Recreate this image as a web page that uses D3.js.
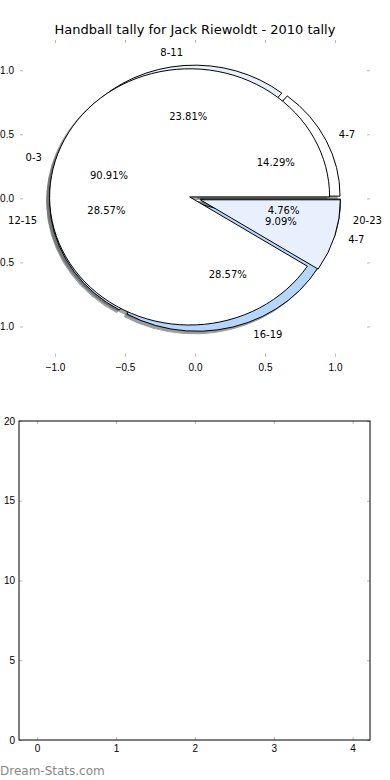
<!DOCTYPE html>
<html lang="en">
<head>
<meta charset="UTF-8">
<title>Handball tally for Jack Riewoldt - 2010 tally</title>
<style>
  body { margin: 0; background: #ffffff; }
  svg { display: block; font-family: 'DejaVu Sans', sans-serif; }
  .tick text { font-size: 10px; fill: #000000; }
  .tick line { stroke: #b8b8b8; }
</style>
</head>
<body>
<svg id="chart" width="390" height="780"></svg>
<script src="https://d3js.org/d3.v7.min.js"></script>
<script>
const title = "Handball tally for Jack Riewoldt - 2010 tally";

// handballs by time band (the empty 0-3 band is left out of this pie)
const tallyBands = ["4-7", "8-11", "12-15", "16-19", "20-23"];
const tallyValues = [3, 5, 6, 6, 1];
const tallyColors = ["#ffffff", "#e9f0fd", "#d3e3fb", "#b6d6fe", "#e9f0fd"];

// second pie, drawn on top of the first one
const splitBands = ["0-3", "4-7"];
const splitValues = [10, 1];
const splitColors = ["#ffffff", "#e9f0fd"];

const pieTicks = [-1.0, -0.5, 0.0, 0.5, 1.0];
const barXTicks = [0, 1, 2, 3, 4];
const barYTicks = [0, 5, 10, 15, 20];

const explode = 0.04, shadowOff = 0.02;

const svg = d3.select("#chart");

// ---- top panel: the pies ----
const xP = d3.scaleLinear().domain([-1.25, 1.25]).range([20, 370]);
const yP = d3.scaleLinear().domain([-1.236, 1.236]).range([356.7, 40]);

svg.append("text")
  .attr("x", xP(0)).attr("y", 34)
  .attr("text-anchor", "middle")
  .style("font-size", "13px")
  .text(title);

function tickAxes(g, x, y, xt, yt, xpad, ypad, xfmt, yfmt) {
  const [x0, x1] = x.range(), [y0, y1] = y.range();
  g.append("g").attr("transform", `translate(0,${y0})`)
    .call(d3.axisBottom(x).tickValues(xt).tickSize(-3).tickPadding(xpad).tickFormat(xfmt))
    .call(a => a.select(".domain").remove());
  g.append("g").attr("transform", `translate(0,${y1})`)
    .call(d3.axisTop(x).tickValues(xt).tickSize(-3).tickFormat(""))
    .call(a => a.select(".domain").remove());
  g.append("g").attr("transform", `translate(${x0},0)`)
    .call(d3.axisLeft(y).tickValues(yt).tickSize(-3).tickPadding(ypad).tickFormat(yfmt))
    .call(a => a.select(".domain").remove());
  g.append("g").attr("transform", `translate(${x1},0)`)
    .call(d3.axisRight(y).tickValues(yt).tickSize(-3).tickFormat(""))
    .call(a => a.select(".domain").remove());
}

const piePanel = svg.append("g");
tickAxes(piePanel, xP, yP, pieTicks, pieTicks, 7, 6, d3.format(".1f"), d3.format(".1f"));

// matplotlib-style pies: start at 3 o'clock and run counter-clockwise
function layout(values, bands, colors) {
  const pie = d3.pie().sort(null)
    .startAngle(Math.PI / 2)
    .endAngle(Math.PI / 2 - 2 * Math.PI);
  const total = d3.sum(values);
  return pie(values).map((d, i) => {
    const mid = Math.PI / 2 - (d.startAngle + d.endAngle) / 2;
    return {
      arc: d, band: bands[i], color: colors[i], mid,
      pct: d3.format(".2f")(values[i] / total * 100) + "%",
      dx: explode * Math.cos(mid), dy: explode * Math.sin(mid)
    };
  });
}

const slices = [
  ...layout(tallyValues, tallyBands, tallyColors),
  ...layout(splitValues, splitBands, splitColors)
];

const unitArc = d3.arc().innerRadius(0).outerRadius(1);
const kx = xP(1) - xP(0), ky = yP(0) - yP(1);

function shade(c) {
  const r = d3.rgb(c);
  return d3.rgb(r.r * 0.3, r.g * 0.3, r.b * 0.3).toString();
}

// shadows sit under every wedge
piePanel.append("g").selectAll("path").data(slices).join("path")
  .attr("transform", d => `translate(${xP(d.dx - shadowOff)},${yP(d.dy - shadowOff)}) scale(${kx},${ky})`)
  .attr("d", d => unitArc(d.arc))
  .attr("fill", d => shade(d.color))
  .attr("stroke", d => shade(d.color))
  .attr("opacity", 0.5)
  .attr("vector-effect", "non-scaling-stroke");

piePanel.append("g").selectAll("path").data(slices).join("path")
  .attr("transform", d => `translate(${xP(d.dx)},${yP(d.dy)}) scale(${kx},${ky})`)
  .attr("d", d => unitArc(d.arc))
  .attr("fill", d => d.color)
  .attr("stroke", "#000000")
  .attr("stroke-width", 1)
  .attr("vector-effect", "non-scaling-stroke");

const texts = piePanel.append("g").style("font-size", "10px");
texts.selectAll("text.band").data(slices).join("text")
  .attr("class", "band")
  .attr("x", d => xP(1.1 * Math.cos(d.mid) + d.dx))
  .attr("y", d => yP(1.1 * Math.sin(d.mid) + d.dy))
  .attr("dy", "0.35em")
  .attr("text-anchor", d => Math.cos(d.mid) > 0 ? "start" : "end")
  .text(d => d.band);
texts.selectAll("text.pct").data(slices).join("text")
  .attr("class", "pct")
  .attr("x", d => xP(0.6 * Math.cos(d.mid) + d.dx))
  .attr("y", d => yP(0.6 * Math.sin(d.mid) + d.dy))
  .attr("dy", "0.35em")
  .attr("text-anchor", "middle")
  .text(d => d.pct);

// ---- bottom panel: empty axes ----
const xB = d3.scaleLinear().domain([-0.23, 4.22]).range([19, 370]);
const yB = d3.scaleLinear().domain([0, 20]).range([740, 421]);

const barPanel = svg.append("g");
tickAxes(barPanel, xB, yB, barXTicks, barYTicks, 5, 4, d3.format("d"), d3.format("d"));
barPanel.append("rect")
  .attr("x", xB.range()[0]).attr("y", yB.range()[1])
  .attr("width", xB.range()[1] - xB.range()[0])
  .attr("height", yB.range()[0] - yB.range()[1])
  .attr("fill", "none")
  .attr("stroke", "#000000");

svg.append("text")
  .attr("x", 0).attr("y", 775)
  .style("font-size", "12px")
  .attr("fill", "#888888")
  .text("Dream-Stats.com");
</script>
</body>
</html>
